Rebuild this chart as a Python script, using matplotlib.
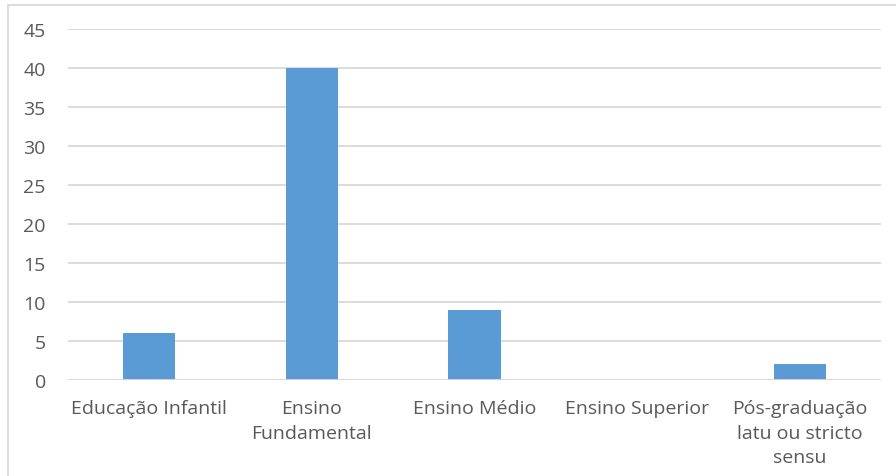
import numpy as np
import matplotlib.pyplot as plt
from matplotlib.lines import Line2D

plt.rcParams['font.family'] = ['Open Sans', 'DejaVu Sans']

categorias = ["Educação Infantil", "Ensino\nFundamental", "Ensino Médio",
              "Ensino Superior", "Pós-graduação\nlatu ou stricto\nsensu"]
valores = [6, 40, 9, 0, 2]

fig = plt.figure(figsize=(8.96, 4.77), dpi=100)
ax = fig.add_axes([68/896, 1 - 381/477, (881-68)/896, (381-30)/477])

x = np.arange(len(categorias))
ax.bar(x, valores, width=0.32, color="#5B9BD5", zorder=3)

ax.set_xlim(-0.5, len(categorias) - 0.5)
ax.set_ylim(0, 45)
ax.set_yticks(np.arange(0, 46, 5))
ax.set_xticks(x)
ax.set_xticklabels(categorias, linespacing=1.45)
ax.tick_params(axis='both', length=0, labelsize=14, colors="#595959")
ax.tick_params(axis='x', pad=14)
ax.tick_params(axis='y', pad=16)
ax.grid(axis='y', color="#D9D9D9", linewidth=1.3, zorder=0)
for s in ax.spines.values():
    s.set_visible(False)
ax.axhline(0, color="#D9D9D9", linewidth=1.3, zorder=4)

# chart area frame (left and top edges)
fig.add_artist(Line2D([7.5/896, 7.5/896], [0, 1 - 5.5/477], transform=fig.transFigure,
                      color="#D9D9D9", linewidth=1.3))
fig.add_artist(Line2D([7.5/896, 1], [1 - 5.5/477, 1 - 5.5/477], transform=fig.transFigure,
                      color="#D9D9D9", linewidth=1.3))

plt.savefig("out.png", dpi=100)
plt.close()
